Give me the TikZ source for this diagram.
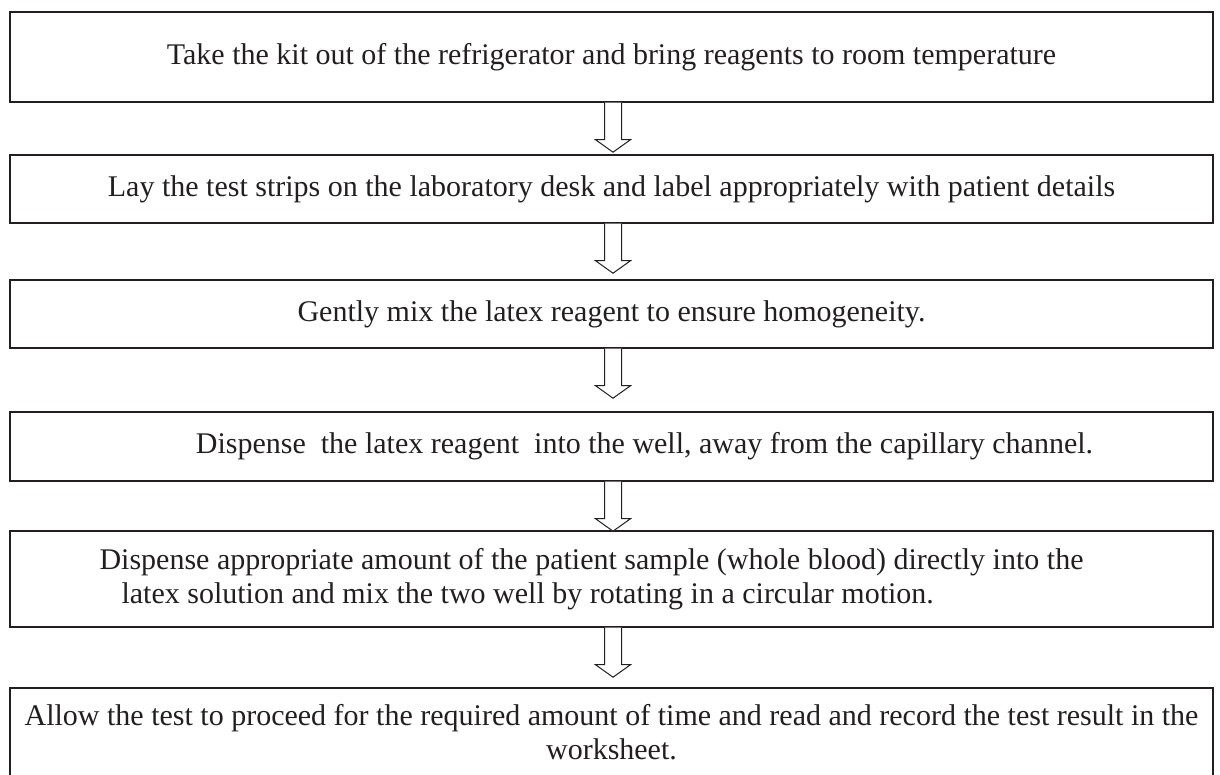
\documentclass[tikz,border=0pt]{standalone}
\usepackage{fontspec}
\setmainfont{Liberation Serif}
\usetikzlibrary{calc}
\definecolor{ink}{HTML}{231F20}
% hollow block arrow hanging below a step box
\newcommand\flowdown[1]{%
  \draw[flowarrow] ($(#1.south)+(-7,0)$) -- ++(0,37) -- ++(-9,0)
    -- ++(17.5,12.5) -- ++(17.5,-12.5) -- ++(-9,0) -- ++(0,-37);}
\begin{document}
\begin{tikzpicture}[x=1pt,y=-1pt,
  stepbox/.style={draw=ink, line width=1.4pt, minimum width=1203pt,
    inner sep=0pt, text=ink, align=center,
    font=\fontsize{30}{34.5}\selectfont},
  flowarrow/.style={draw=ink, line width=1pt, fill=white, line join=miter}]
\useasboundingbox (0,0) rectangle (1220,774);
\node[stepbox, minimum height=90pt] (s1) at (611.5,57)
  {Take the kit out of the refrigerator and bring reagents to room temperature};
\node[stepbox, minimum height=68pt] (s2) at (611.5,189)
  {Lay the test strips on the laboratory desk and label appropriately with patient details};
\node[stepbox, minimum height=68pt] (s3) at (611.5,314)
  {Gently mix the latex reagent to ensure homogeneity.};
\node[stepbox, minimum height=69pt] (s4) at (611.5,446.5)
  {\hspace*{66pt}Dispense\ \ the latex reagent\ \ into the well, away from the capillary channel.};
\node[stepbox, minimum height=96pt, align=left] (s5) at (611.5,579)
  {Dispense appropriate amount of the patient sample (whole blood) directly into the\hspace*{40pt}\\
   \hspace*{22pt}latex solution and mix the two well by rotating in a circular motion.};
\node[stepbox, minimum height=88pt] (s6) at (611.5,732)
  {Allow the test to proceed for the required amount of time and read and record the test result in the\\
   worksheet.};
\flowdown{s1}
\flowdown{s2}
\flowdown{s3}
\flowdown{s4}
\flowdown{s5}
\end{tikzpicture}
\end{document}
